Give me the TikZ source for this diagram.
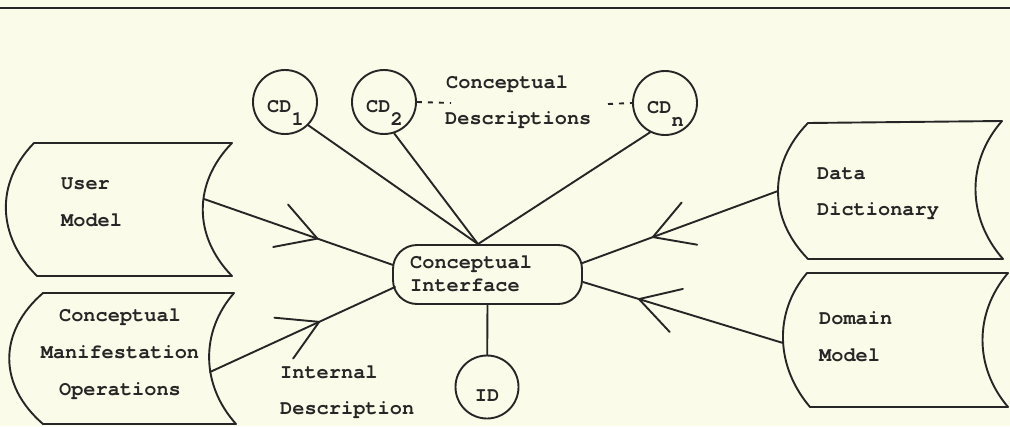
\documentclass[tikz,border=0pt]{standalone}
\usepackage{fontspec}
\newfontfamily\typewr[UprightFont=*-Bold]{TeX Gyre Cursor}
\usetikzlibrary{calc,decorations.markings}
\definecolor{paper}{RGB}{251,251,233}
\definecolor{ink}{RGB}{38,38,38}
\begin{document}
\begin{tikzpicture}[x=1pt,y=-1pt,
  line/.style={draw=ink, line width=1.9pt, line join=round, line cap=round},
  txt/.style={font=\typewr\fontsize{20.3}{24}\selectfont, text=ink, inner sep=0pt, anchor=base west},
  ctxt/.style={txt, anchor=base},
  disc/.style={circle, draw=ink, line width=1.9pt, minimum size=64pt, inner sep=0pt},
  cibox/.style={rectangle, rounded corners=24pt, draw=ink, line width=1.9pt,
    minimum width=189pt, minimum height=59pt, inner sep=0pt},
  barbed/.style={postaction={decorate}, decoration={markings,
    mark=at position #1 with {\draw[line] (-39,22.5) -- (0,0) -- (-39,-22.5);}}},
  dots/.style={line, line cap=butt, dash pattern=on 5pt off 6pt},
]
% paper and frame
\fill[paper] (0,0) rectangle (1010,426);
\useasboundingbox (0,0) rectangle (1010,426);
\draw[ink, line width=2.6pt] (0,8) -- (1010,8);

% stored-data boxes
\draw[line] (34,143) -- (232,143) .. controls (193,183) and (193,236) .. (232,276)
  -- (37,276) .. controls (-3,236) and (-5,183) .. cycle;
\draw[line] (43,293) -- (234,293) .. controls (200,332) and (201,385) .. (236,424)
  -- (43,424) .. controls (-2,385) and (-2,332) .. cycle;
\draw[line] (808,123) -- (1002,121) .. controls (966,162) and (967,218) .. (1003,259)
  -- (808,259) .. controls (768,218) and (768,164) .. cycle;
\draw[line] (807,273) -- (1008,273) .. controls (974,313) and (974,367) .. (1008,407)
  -- (810,407) .. controls (776,367) and (773,313) .. cycle;

\coordinate (um-e) at (204,199);
\coordinate (cm-e) at (210,372);
\coordinate (dd-w) at (778,191);
\coordinate (dm-w) at (783,343);

\node[txt] (um1) at (61,189) {User};
\node[txt] (um2) at (61,226) {Model};
\node[ctxt] (cm1) at (120,321) {Conceptual};
\node[ctxt] (cm2) at (120,358) {Manifestation};
\node[ctxt] (cm3) at (120,395) {Operations};
\node[txt] (dd1) at (817,179) {Data};
\node[txt] (dd2) at (817,215) {Dictionary};
\node[txt] (dm1) at (819,324) {Domain};
\node[txt] (dm2) at (819,361) {Model};

% central interface
\node[cibox] (ci) at (487.5,274.5) {};
\node[txt] (ci1) at (410,268) {Conceptual};
\node[txt] (ci2) at (410,291) {Interface};

% description discs
\node[disc] (cd1) at (285,102) {};
\node[disc] (cd2) at (384,102) {};
\node[disc] (cdn) at (665,103) {};
\node[disc, minimum size=63pt] (id) at (487,387) {};
\node[txt] (cd1l) at (267,112) {CD\raisebox{-13pt}{1}};
\node[txt] (cd2l) at (366,112) {CD\raisebox{-13pt}{2}};
\node[txt] (cdnl) at (647,113) {CD\raisebox{-13pt}{n}};
\node[ctxt] (idl) at (487,401) {ID};

\node[txt] (cdd1) at (446,88) {Conceptual};
\node[txt] (cdd2) at (445,124) {Descriptions};
\node[txt] (int1) at (280,378) {Internal};
\node[txt] (int2) at (280,414) {Description};

\coordinate (dA) at (451,103);
\coordinate (dB) at (608,104);
\draw[dots] (cd2.east) -- (dA);
\draw[dots] (dB) -- (cdn.west);

% connectors
\coordinate (ci-top) at ($(ci.north)+(-9.5,0)$);
\draw[line] (ci-top) -- (cd1.-45);
\draw[line] (ci-top) -- (cd2.-72);
\draw[line] (ci-top) -- (cdn.-117);
\draw[line] (ci.south) -- (id);

\draw[line, barbed=0.6] (um-e) -- ($(ci.west)+(1,-9.5)$);
\draw[line, barbed=0.59] (cm-e) -- ($(ci.west)+(3,12.5)$);
\draw[line, barbed=0.64] (dd-w) -- ($(ci.east)+(-0.5,-11.5)$);
\draw[line, barbed=0.72] (dm-w) -- ($(ci.east)+(0,7.5)$);
\end{tikzpicture}
\end{document}
